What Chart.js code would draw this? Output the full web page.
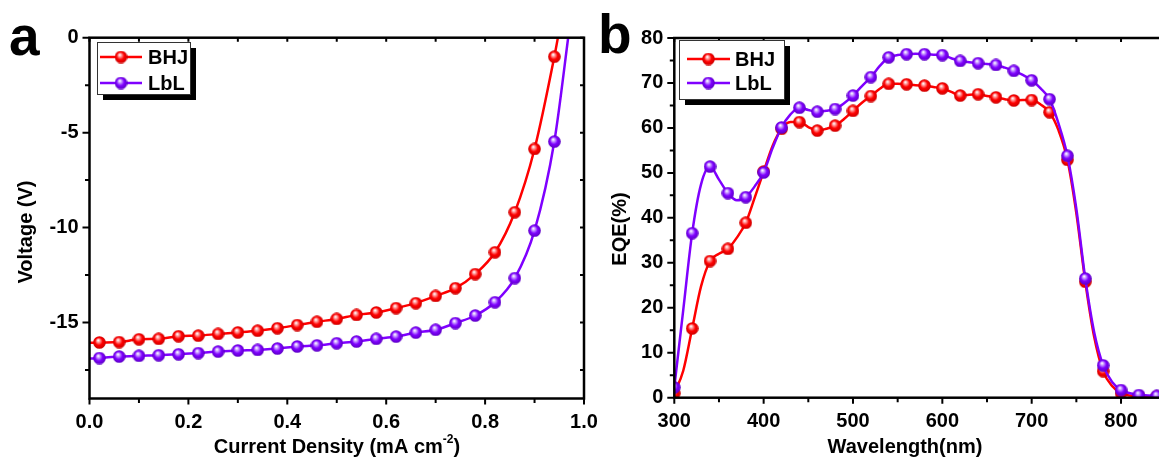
<!DOCTYPE html>
<html>
<head>
<meta charset="utf-8">
<script src="https://cdn.jsdelivr.net/npm/chart.js@4"></script>
<style>
  html, body { margin: 0; padding: 0; overflow: hidden; background: #fff; }
  #wrapA { position: absolute; left: 0; top: 0; width: 600px; height: 459px; }
  #wrapB { position: absolute; left: 600px; top: 0; width: 580px; height: 459px; }
</style>
</head>
<body>
<div id="wrapA"><canvas id="jvchart" width="600" height="459"></canvas></div>
<div id="wrapB"><canvas id="eqechart" width="580" height="459"></canvas></div>
<script>
var seriesNames = ['BHJ', 'LbL'];
var seriesColors = ['#ff0000', '#7f00ff'];

// panel a
var bhjCurrent = [0, 0.02, 0.06, 0.10, 0.14, 0.18, 0.22, 0.26, 0.30, 0.34, 0.38, 0.42, 0.46, 0.50,
                  0.54, 0.58, 0.62, 0.66, 0.70, 0.74, 0.78, 0.82, 0.86, 0.90, 0.94, 0.95];
var bhjVoltage = [-16.07, -16.05, -16.03, -15.88, -15.86, -15.72, -15.69, -15.60, -15.52, -15.43, -15.30, -15.13, -14.96, -14.81,
                  -14.60, -14.47, -14.24, -13.98, -13.60, -13.19, -12.45, -11.30, -9.19, -5.86, -1.00, 0.4];
var lblCurrent = [0, 0.02, 0.06, 0.10, 0.14, 0.18, 0.22, 0.26, 0.30, 0.34, 0.38, 0.42, 0.46, 0.50,
                  0.54, 0.58, 0.62, 0.66, 0.70, 0.74, 0.78, 0.82, 0.86, 0.90, 0.94, 0.97];
var lblVoltage = [-16.90, -16.87, -16.79, -16.75, -16.72, -16.67, -16.61, -16.53, -16.47, -16.44, -16.37, -16.26, -16.20, -16.09,
                  -16.00, -15.86, -15.74, -15.53, -15.38, -15.03, -14.63, -13.93, -12.66, -10.16, -5.47, 0.4];
var currentTicks = [0, 0.2, 0.4, 0.6, 0.8, 1.0];
var voltageTicks = [-15, -10, -5, 0];

// panel b
var wavelength = [300, 310, 320, 330, 340, 350, 360, 370, 380, 390, 400, 410, 420, 430, 440, 450, 460, 470, 480, 490,
                  500, 510, 520, 530, 540, 550, 560, 570, 580, 590, 600, 610, 620, 630, 640, 650, 660, 670, 680, 690,
                  700, 710, 720, 730, 740, 750, 760, 770, 780, 790, 800, 810, 820, 830, 840];
var bhjEqe = [1.0, 6.0, 15.4, 24.8, 30.4, 32.0, 33.1, 35.6, 38.9, 44.5, 50.3, 56.0, 59.8, 61.3, 61.3, 60.2, 59.4, 59.8, 60.5, 62.0,
              63.8, 65.6, 67.1, 68.7, 69.8, 69.8, 69.7, 69.5, 69.4, 69.1, 68.8, 68.0, 67.2, 67.4, 67.5, 67.1, 66.8, 66.4, 66.1, 66.2,
              66.2, 65.2, 63.5, 59.5, 52.9, 41.0, 25.8, 13.5, 5.9, 2.6, 1.0, 0.5, 0.3, 0.2, 0.2];
var lblEqe = [2.3, 19.5, 36.6, 47.5, 51.4, 48.5, 45.5, 43.9, 44.6, 47.0, 50.1, 55.5, 60.1, 63.0, 64.5, 64.0, 63.6, 63.8, 64.2, 65.5,
              67.2, 69.3, 71.3, 73.8, 75.7, 76.2, 76.4, 76.5, 76.4, 76.3, 76.2, 75.5, 74.9, 74.6, 74.4, 74.2, 74.0, 73.4, 72.7, 71.8,
              70.6, 68.8, 66.4, 61.0, 53.8, 42.0, 26.5, 14.5, 7.2, 3.5, 1.7, 1.0, 0.6, 0.5, 0.4];
var wavelengthTicks = [300, 400, 500, 600, 700, 800];
var eqeTicks = [0, 10, 20, 30, 40, 50, 60, 70, 80];

var FONT = "'Liberation Sans', Arial, sans-serif";

// shaded ball used as marker
function ball(color, light, dark) {
  var c = document.createElement('canvas');
  c.width = 13; c.height = 13;
  var g = c.getContext('2d');
  var grad = g.createRadialGradient(5.2, 4.2, 0.3, 6.5, 6.5, 6.6);
  grad.addColorStop(0, '#ffffff');
  grad.addColorStop(0.22, light);
  grad.addColorStop(0.55, color);
  grad.addColorStop(1, dark);
  g.fillStyle = grad;
  g.beginPath();
  g.arc(6.5, 6.5, 6.3, 0, Math.PI * 2);
  g.fill();
  return c;
}
var balls = [ball('#ff0000', '#ff9a9a', '#c80000'), ball('#7f00ff', '#c89cff', '#5a00c0')];

function pts(xs, ys) {
  return xs.map(function (x, i) { return { x: x, y: ys[i] }; });
}

function isMajor(v, step) {
  var r = v / step;
  return Math.abs(r - Math.round(r)) < 1e-6;
}

var decorPlugin = {
  id: 'decor',
  afterDraw: function (chart, args, o) {
    var ctx = chart.ctx, a = chart.chartArea;
    var xs = chart.scales.x, ys = chart.scales.y;
    var i, n, v, p, len;
    ctx.save();
    ctx.strokeStyle = '#000';
    ctx.lineWidth = 2;
    ctx.beginPath();
    n = Math.round((o.xTo - o.xFrom) / o.xMinor);
    for (i = 0; i <= n; i++) {
      v = o.xFrom + i * o.xMinor;
      p = xs.getPixelForValue(v);
      len = isMajor(v, o.xMajor) ? 6 : 4.5;
      ctx.moveTo(p, a.bottom); ctx.lineTo(p, a.bottom + len);
      ctx.moveTo(p, a.top); ctx.lineTo(p, a.top + 4);
    }
    n = Math.round((o.yTo - o.yFrom) / o.yMinor);
    for (i = 0; i <= n; i++) {
      v = o.yFrom + i * o.yMinor;
      p = ys.getPixelForValue(v);
      len = isMajor(v, o.yMajor) ? 7 : 4.5;
      ctx.moveTo(a.left, p); ctx.lineTo(a.left - len, p);
      ctx.moveTo(a.right, p); ctx.lineTo(a.right - 4, p);
    }
    ctx.stroke();
    ctx.lineWidth = 2.5;
    ctx.strokeRect(a.left, a.top, a.right - a.left, a.bottom - a.top);

    // legend with drop shadow
    var L = o.legend;
    var lx = a.left + L.dx, ly = a.top + L.dy;
    ctx.fillStyle = '#000';
    ctx.fillRect(lx + 6, ly + 6, L.w, L.h);
    ctx.fillStyle = '#fff';
    ctx.fillRect(lx, ly, L.w, L.h);
    ctx.lineWidth = 1;
    ctx.strokeStyle = '#333';
    ctx.strokeRect(lx + 0.5, ly + 0.5, L.w, L.h);
    ctx.font = 'bold 20px ' + FONT;
    ctx.textBaseline = 'middle';
    ctx.textAlign = 'left';
    chart.data.datasets.forEach(function (ds, k) {
      var yy = ly + L.rows[k];
      ctx.strokeStyle = ds.borderColor;
      ctx.lineWidth = 2.5;
      ctx.beginPath();
      ctx.moveTo(lx + L.s0, yy); ctx.lineTo(lx + L.s1, yy);
      ctx.stroke();
      ctx.drawImage(ds.pointStyle, lx + (L.s0 + L.s1) / 2 - 6.5, yy - 6.5);
      ctx.fillStyle = '#000';
      ctx.fillText(ds.label, lx + L.tx, yy + 1);
    });

    // panel letter
    ctx.font = 'bold 55px ' + FONT;
    ctx.textBaseline = 'alphabetic';
    ctx.fillText(o.letter.text, o.letter.x, o.letter.y);

    // axis titles
    ctx.font = 'bold 20px ' + FONT;
    ctx.textBaseline = 'middle';
    var t = o.xTitle;
    var w0 = ctx.measureText(t.main).width;
    var wTail = ctx.measureText(t.tail).width;
    ctx.font = 'bold 12px ' + FONT;
    var wSup = t.sup ? ctx.measureText(t.sup).width : 0;
    var x0 = t.cx - (w0 + wSup + wTail) / 2;
    ctx.font = 'bold 20px ' + FONT;
    ctx.fillText(t.main, x0, t.cy);
    if (t.sup) {
      ctx.font = 'bold 12px ' + FONT;
      ctx.fillText(t.sup, x0 + w0, t.cy - 7);
      ctx.font = 'bold 20px ' + FONT;
    }
    ctx.fillText(t.tail, x0 + w0 + wSup, t.cy);

    var yt = o.yTitle;
    ctx.save();
    ctx.translate(yt.cx, yt.cy);
    ctx.rotate(-Math.PI / 2);
    ctx.textAlign = 'center';
    ctx.fillText(yt.text, 0, 0);
    ctx.restore();
    ctx.restore();
  }
};

function tickFont() {
  return { family: FONT, size: 20, weight: 'bold' };
}

// panel a chart
new Chart(document.getElementById('jvchart'), {
  type: 'line',
  data: {
    datasets: [
      { label: seriesNames[0], data: pts(bhjCurrent, bhjVoltage), borderColor: seriesColors[0], borderWidth: 2.5,
        pointStyle: balls[0], order: 2,
        pointRadius: function (c) { return (c.dataIndex === 0 || c.dataIndex === bhjCurrent.length - 1) ? 0 : 6; } },
      { label: seriesNames[1], data: pts(lblCurrent, lblVoltage), borderColor: seriesColors[1], borderWidth: 2.5,
        pointStyle: balls[1], order: 1,
        pointRadius: function (c) { return (c.dataIndex === 0 || c.dataIndex === lblCurrent.length - 1) ? 0 : 6; } }
    ]
  },
  options: {
    responsive: false,
    animation: false,
    layout: { padding: { left: 0, top: 37.7, right: 16, bottom: 0 } },
    elements: { line: { cubicInterpolationMode: 'monotone' } },
    plugins: {
      legend: { display: false },
      tooltip: { enabled: false },
      decor: {
        xFrom: 0, xTo: 1, xMinor: 0.1, xMajor: 0.2,
        yFrom: -17.5, yTo: 0, yMinor: 2.5, yMajor: 5,
        legend: { dx: 7.5, dy: 4.3, w: 93, h: 52, rows: [15, 41], s0: 3, s1: 45, tx: 51 },
        letter: { text: 'a', x: 9, y: 55 },
        xTitle: { main: 'Current Density (mA cm', sup: '-2', tail: ')', cx: 337, cy: 447 },
        yTitle: { text: 'Voltage (V)', cx: 26, cy: 232 }
      }
    },
    scales: {
      x: {
        type: 'linear', min: 0, max: 1,
        afterBuildTicks: function (s) { s.ticks = currentTicks.map(function (v) { return { value: v }; }); },
        afterFit: function (s) { s.height = 60.5; s.paddingLeft = 10; s.paddingRight = 10; },
        grid: { display: false, drawTicks: false },
        border: { display: false },
        ticks: { padding: 12, color: '#000', font: tickFont(), callback: function (v) { return v.toFixed(1); } }
      },
      y: {
        type: 'linear', min: -19, max: 0,
        afterBuildTicks: function (s) { s.ticks = voltageTicks.map(function (v) { return { value: v }; }); },
        afterFit: function (s) { s.width = 89.5; },
        grid: { display: false, drawTicks: false },
        border: { display: false },
        ticks: { padding: 11, color: '#000', font: tickFont(), callback: function (v) { return String(v); } }
      }
    }
  },
  plugins: [decorPlugin]
});

// panel b chart
new Chart(document.getElementById('eqechart'), {
  type: 'line',
  data: {
    datasets: [
      { label: seriesNames[0], data: pts(wavelength, bhjEqe), borderColor: seriesColors[0], borderWidth: 2.5,
        pointStyle: balls[0], order: 2,
        pointRadius: function (c) { return c.dataIndex % 2 === 0 ? 6 : 0; } },
      { label: seriesNames[1], data: pts(wavelength, lblEqe), borderColor: seriesColors[1], borderWidth: 2.5,
        pointStyle: balls[1], order: 1,
        pointRadius: function (c) { return c.dataIndex % 2 === 0 ? 6 : 0; } }
    ]
  },
  options: {
    responsive: false,
    animation: false,
    layout: { padding: { left: 0, top: 38, right: 14.3, bottom: 0 } },
    elements: { line: { cubicInterpolationMode: 'monotone' } },
    plugins: {
      legend: { display: false },
      tooltip: { enabled: false },
      decor: {
        xFrom: 300, xTo: 850, xMinor: 50, xMajor: 100,
        yFrom: 0, yTo: 80, yMinor: 5, yMajor: 10,
        legend: { dx: 4.7, dy: 2, w: 105, h: 59, rows: [19, 43], s0: 8, s1: 51, tx: 56 },
        letter: { text: 'b', x: -2, y: 53 },
        xTitle: { main: 'Wavelength(nm)', sup: '', tail: '', cx: 305, cy: 447 },
        yTitle: { text: 'EQE(%)', cx: 20, cy: 229 }
      }
    },
    scales: {
      x: {
        type: 'linear', min: 300, max: 850,
        afterBuildTicks: function (s) { s.ticks = wavelengthTicks.map(function (v) { return { value: v }; }); },
        afterFit: function (s) { s.height = 61.3; s.paddingLeft = 10; s.paddingRight = 10; },
        grid: { display: false, drawTicks: false },
        border: { display: false },
        ticks: { padding: 12, color: '#000', font: tickFont(), callback: function (v) { return String(v); } }
      },
      y: {
        type: 'linear', min: 0, max: 80,
        afterBuildTicks: function (s) { s.ticks = eqeTicks.map(function (v) { return { value: v }; }); },
        afterFit: function (s) { s.width = 74.3; },
        grid: { display: false, drawTicks: false },
        border: { display: false },
        ticks: { padding: 11, color: '#000', font: tickFont(), callback: function (v) { return String(v); } }
      }
    }
  },
  plugins: [decorPlugin]
});
</script>
</body>
</html>
